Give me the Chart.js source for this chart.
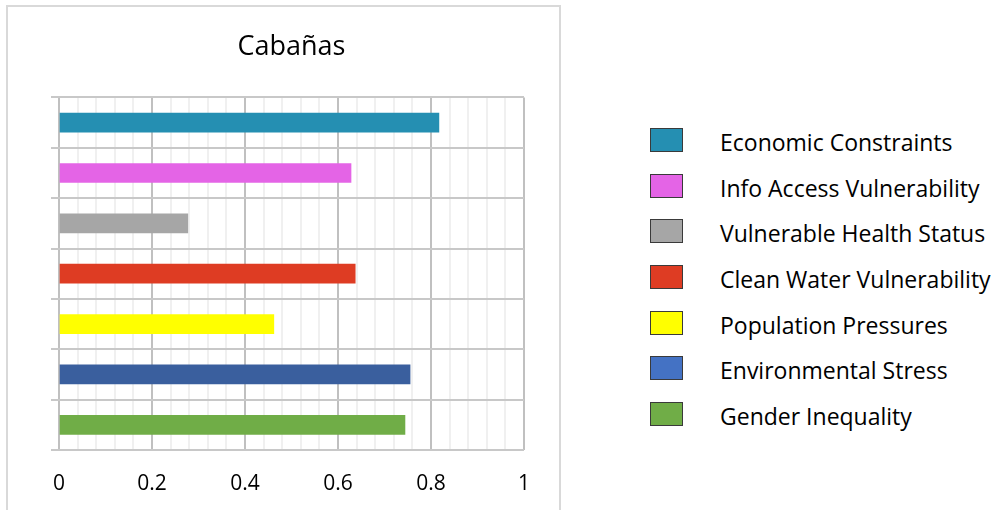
<!DOCTYPE html>
<html>
<head>
<meta charset="utf-8">
<script src="https://cdn.jsdelivr.net/npm/chart.js@4/dist/chart.umd.min.js"></script>
<style>
  body { margin: 0; background: #fff; width: 1001px; height: 510px; overflow: hidden; position: relative; font-family: "Open Sans", sans-serif; }
  #frame { position: absolute; left: 6px; top: 5px; width: 551px; height: 520px; border: 2px solid #d9d9d9; border-bottom: none; }
  #mainChart { position: absolute; left: 0; top: 0; }
  #legend { position: absolute; left: 650px; top: 117px; }
  .row { display: flex; align-items: center; height: 45.7px; white-space: nowrap; }
  .box { width: 33px; height: 24px; box-sizing: border-box; border: 1px solid #3a3a3a; }
  .txt { margin-left: 37px; font-size: 23px; color: #000; position: relative; top: 2px; }
</style>
</head>
<body>
<div id="frame"></div>
<canvas id="mainChart" width="560" height="510"></canvas>
<div id="legend"></div>
<script>
let categories = ['Economic Constraints', 'Info Access Vulnerability', 'Vulnerable Health Status',
    'Clean Water Vulnerability', 'Population Pressures', 'Environmental Stress', 'Gender Inequality'];
let values = [0.817, 0.628, 0.277, 0.637, 0.462, 0.755, 0.744];
let barColors = ['#258FB2', '#E464E6', '#A6A6A6', '#DE3C23', '#FFFF00', '#3A5F9E', '#70AD47'];
let legendColors = ['#258FB2', '#E464E6', '#A6A6A6', '#DE3C23', '#FFFF00', '#4472C4', '#70AD47'];
let xTickLabels = ['0', '0.2', '0.4', '0.6', '0.8', '1'];
let minorPerMajor = 5;

// legend on the right
let legend = document.getElementById('legend');
categories.forEach(function(name, i) {
    let row = document.createElement('div');
    row.className = 'row';
    row.innerHTML = '<div class="box" style="background:' + legendColors[i] + '"></div><span class="txt">' + name + '</span>';
    legend.appendChild(row);
});

let mainChartConfig = {
    type: 'bar',
    data: {
        labels: categories,
        datasets: [{
            data: values,
            backgroundColor: barColors,
            barThickness: 19
        }]
    },
    options: {
        indexAxis: 'y',
        responsive: false,
        animation: false,
        layout: { padding: { left: 0, right: 36, top: 0, bottom: 0 } },
        plugins: {
            legend: { display: false },
            tooltip: { enabled: false },
            title: {
                display: true,
                text: 'Cabañas',
                fullSize: false,
                color: '#000',
                font: { family: 'Open Sans', size: 27, weight: 'normal' },
                padding: { top: 31, bottom: 34 }
            }
        },
        scales: {
            x: {
                min: 0,
                max: 1,
                afterBuildTicks: function(scale) {
                    let n = (xTickLabels.length - 1) * minorPerMajor;
                    scale.ticks = [];
                    for (let i = 0; i <= n; i++) scale.ticks.push({ value: i / n });
                },
                afterFit: function(scale) { scale.height = 60; },
                ticks: {
                    autoSkip: false,
                    maxRotation: 0,
                    padding: 21,
                    color: '#000',
                    font: { family: 'Open Sans', size: 21 },
                    callback: function(v, i) {
                        return i % minorPerMajor === 0 ? xTickLabels[i / minorPerMajor] : '';
                    }
                },
                grid: {
                    drawTicks: false,
                    lineWidth: 2,
                    color: function(ctx) {
                        return ctx.index % minorPerMajor === 0 ? '#c0c0c0' : '#f0f0f0';
                    }
                },
                border: { display: false }
            },
            y: {
                afterFit: function(scale) { scale.width = 59; },
                ticks: { display: false },
                grid: {
                    offset: true,
                    drawTicks: true,
                    tickLength: 8,
                    lineWidth: 2,
                    color: '#c8c8c8'
                },
                border: { display: false }
            }
        }
    }
};

window.onload = function() {
    let ctx = document.getElementById('mainChart').getContext('2d');
    window.myBar = new Chart(ctx, mainChartConfig);
};
</script>
</body>
</html>
